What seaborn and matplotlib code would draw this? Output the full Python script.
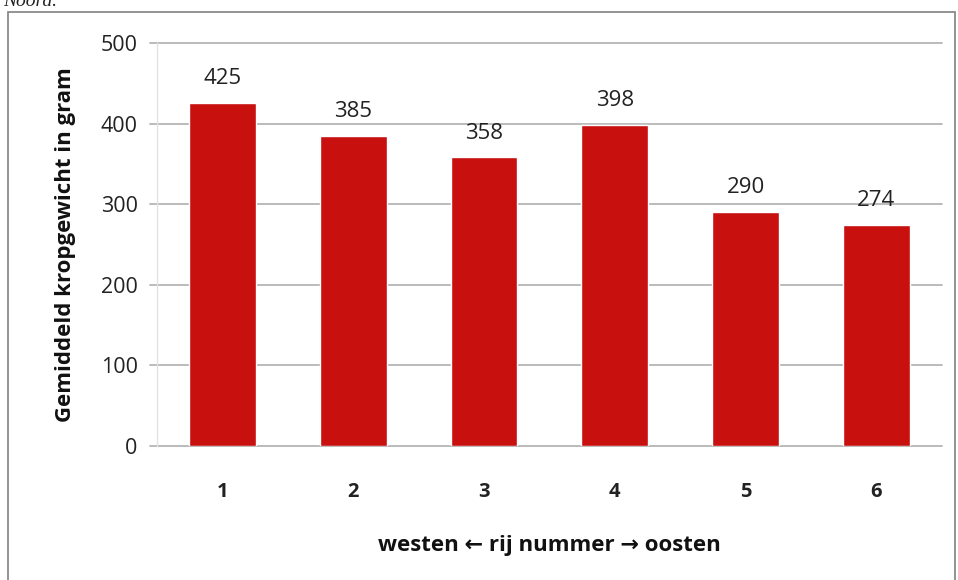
import matplotlib
matplotlib.use("Agg")
import matplotlib.pyplot as plt
import seaborn as sns
import pandas as pd
from matplotlib.patches import Rectangle

# Row numbers (west -> east) and mean crop weight per row
rows = ["1", "2", "3", "4", "5", "6"]
weights = [425, 385, 358, 398, 290, 274]
y_ticks = [0, 100, 200, 300, 400, 500]

df = pd.DataFrame({"rij": rows, "gewicht": weights})

sns.set_theme(style="white")
plt.rcParams["font.family"] = ["Open Sans", "DejaVu Sans"]

fig = plt.figure(figsize=(9.58, 5.80), dpi=100)
ax = fig.add_axes([0.164, 0.231, 0.819, 0.695])

sns.barplot(data=df, x="rij", y="gewicht", color="#c8100f", width=0.51,
            saturation=1, ax=ax, zorder=3)

ax.set_ylim(0, 500)
ax.set_xlim(-0.5, 5.5)
ax.set_yticks(y_ticks)
ax.set_yticklabels([str(t) for t in y_ticks], fontsize=15.5, color="#222222")
ax.tick_params(axis="y", length=0, pad=14)
ax.tick_params(axis="x", length=0, pad=26)
for lbl in ax.get_xticklabels():
    lbl.set_fontsize(14.5)
    lbl.set_fontweight("bold")
    lbl.set_color("#222222")

# horizontal grid lines, extended slightly left of the axis
for t in y_ticks:
    ax.plot([-0.555, 5.5], [t, t], color="#b5b5b5", lw=1.3, zorder=1,
            clip_on=False)

for side in ["top", "right", "bottom"]:
    ax.spines[side].set_visible(False)
ax.spines["left"].set_color("#e2e2e2")
ax.spines["left"].set_linewidth(1.0)

# value labels above bars
for bar, v in zip(ax.patches, weights):
    ax.annotate(str(v), (bar.get_x() + bar.get_width() / 2, v),
                xytext=(0, 10), textcoords="offset points",
                ha="center", va="bottom", fontsize=16, color="#222222")

ax.set_xlabel("westen \u2190 rij nummer \u2192 oosten", fontsize=16,
              fontweight="bold", color="#111111", labelpad=24)
ax.set_ylabel("Gemiddeld kropgewicht in gram", fontsize=16,
              fontweight="bold", color="#111111", labelpad=18)

# surrounding frame
fig.patches.append(Rectangle((8 / 958, -0.05), 947 / 958, 1.05 - 12 / 580,
                             transform=fig.transFigure, fill=False,
                             edgecolor="#8a8a8a", lw=1.3, zorder=0))
fig.text(0.003, 1.012, "Noord.", fontsize=14, style="italic",
         family=["Liberation Serif", "DejaVu Serif"], va="top", color="#222222")

fig.savefig("out.png", dpi=100)
